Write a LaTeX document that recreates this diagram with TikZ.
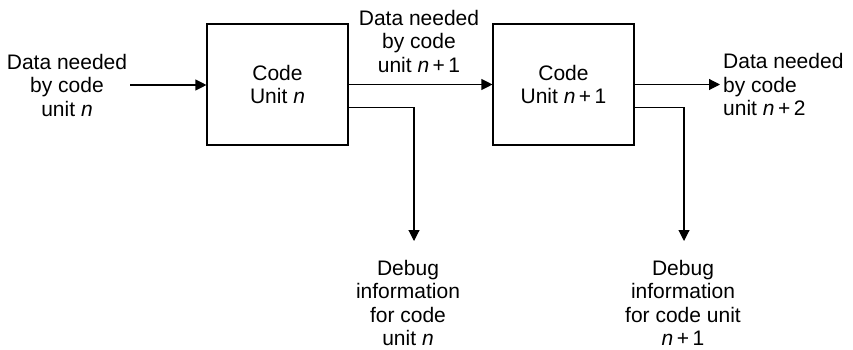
\documentclass[tikz,border=0pt]{standalone}
\usepackage{fontspec}
\setmainfont{Liberation Sans}
\usetikzlibrary{arrows.meta, positioning}
\newcommand{\ncode}{\textit{n}}

\begin{document}
\begin{tikzpicture}[
  x=1pt, y=-1pt,
  every node/.style={font=\fontsize{21}{23.5}\selectfont, inner sep=3pt},
  unitbox/.style={draw, line width=1.1pt, minimum width=141pt, minimum height=121pt, align=center},
  lbl/.style={align=center},
  arr/.style={line width=1.1pt, -{Triangle[length=11pt, width=11pt]}}
]
  \useasboundingbox (0,0) rectangle (853,350);

  % the two code units
  \node[unitbox] (unit1) at (277.5, 84.5) {Code\\Unit \ncode};
  \node[unitbox] (unit2) at (563.5, 84.5) {Code\\Unit \ncode\,+\,1};

  % labels
  \node[lbl] (inlabel) at (67, 85) {Data needed\\by code\\unit \ncode};
  \node[lbl] (midlabel) at (419, 41) {Data needed\\by code\\unit \ncode\,+\,1};
  \node[align=left, anchor=west] (outlabel) at (720, 84.5) {Data needed\\by code\\unit \ncode\,+\,2};
  \node[lbl] (dbg1) at (408, 303) {Debug\\information\\for code\\unit \ncode};
  \node[lbl] (dbg2) at (683, 303) {Debug\\information\\for code unit\\\ncode\,+\,1};

  \coordinate (tip1) at (414, 241);
  \coordinate (tip2) at (684, 241);

  % data flow
  \draw[arr] (inlabel.east) -- (unit1.west |- inlabel.east);
  \draw[arr] (unit1.east) -- (unit2.west);
  \draw[arr] (unit2.east) -- (outlabel.west);

  % debug flow
  \draw[arr] ([yshift=-23pt]unit1.east) -| (tip1);
  \draw[arr] ([yshift=-23pt]unit2.east) -| (tip2);
\end{tikzpicture}
\end{document}
